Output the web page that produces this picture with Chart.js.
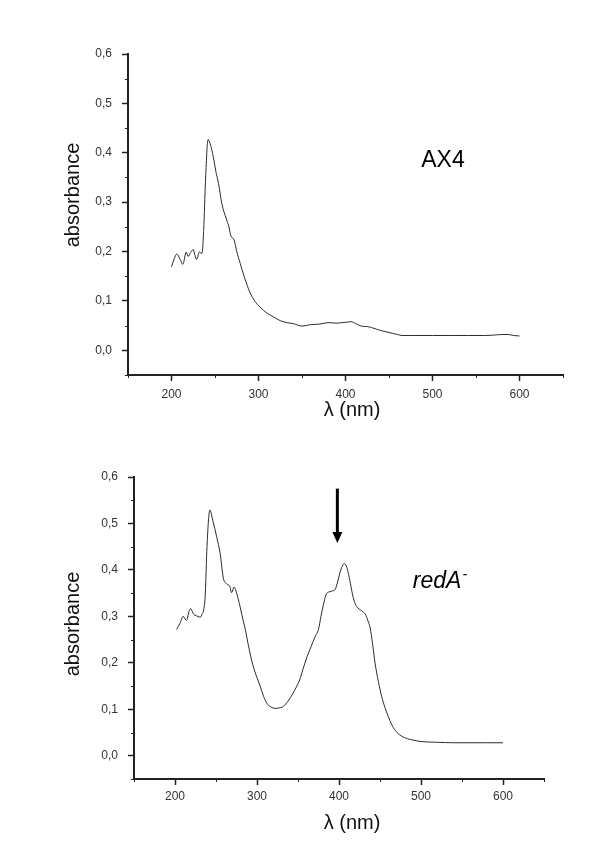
<!DOCTYPE html>
<html>
<head>
<meta charset="utf-8">
<script src="https://cdn.jsdelivr.net/npm/chart.js@4"></script>
<style>
  html, body { margin: 0; padding: 0; background: #fff; }
  .box { position: absolute; left: 0; width: 600px; }
</style>
</head>
<body>
<div class="box" style="top:0;height:430px"><canvas id="ax4"></canvas></div>
<div class="box" style="top:430px;height:429px"><canvas id="reda"></canvas></div>
<script>
// AX4 spectrum (wavelength nm / absorbance)
const wlAX4 = [200, 203, 206, 210, 213, 217, 219, 222, 225, 227, 229, 232, 235, 237, 239, 242,
  245, 248, 251, 254, 258, 263, 266, 268, 272, 275, 279, 284, 290, 296, 302, 310, 317, 325,
  333, 340, 350, 360, 370, 380, 390, 396, 402, 406, 412, 418, 425, 430, 437, 443, 450, 455,
  460, 465, 480, 500, 520, 540, 560, 572, 580, 587, 593, 600];
const absAX4 = [0.169, 0.185, 0.195, 0.184, 0.174, 0.199, 0.190, 0.198, 0.204, 0.192, 0.184,
  0.199, 0.196, 0.245, 0.340, 0.427, 0.415, 0.392, 0.362, 0.338, 0.296, 0.266, 0.250, 0.233,
  0.223, 0.200, 0.176, 0.147, 0.118, 0.099, 0.087, 0.075, 0.068, 0.060, 0.056, 0.054, 0.049,
  0.052, 0.053, 0.056, 0.055, 0.056, 0.057, 0.058, 0.054, 0.049, 0.048, 0.046, 0.042, 0.039,
  0.036, 0.034, 0.032, 0.030, 0.030, 0.030, 0.030, 0.030, 0.030, 0.031, 0.032, 0.032, 0.030,
  0.029];

// redA- spectrum
const wlRedA = [202, 206, 210, 214, 217, 219, 222, 224, 228, 231, 233, 235, 237, 239, 242.5,
  246, 251, 255, 259, 263, 267, 269, 272, 277, 283, 286, 289, 295, 300, 304, 308, 312, 317,
  322, 327, 332, 338, 344, 348, 352, 356, 361, 366, 371, 375, 378, 381, 385, 389, 392, 395,
  398, 401, 404, 406.5, 409, 411, 414, 417, 420, 423, 426, 429, 432, 435, 438, 441, 444, 448,
  452, 456, 460, 464, 468, 474, 480, 487, 495, 505, 520, 540, 560, 580, 600];
const absRedA = [0.272, 0.285, 0.300, 0.291, 0.310, 0.317, 0.307, 0.303, 0.300, 0.298, 0.305,
  0.314, 0.350, 0.450, 0.529, 0.507, 0.470, 0.436, 0.382, 0.370, 0.364, 0.351, 0.363, 0.338,
  0.292, 0.270, 0.242, 0.195, 0.168, 0.149, 0.128, 0.113, 0.105, 0.102, 0.103, 0.106, 0.118,
  0.135, 0.148, 0.163, 0.186, 0.213, 0.235, 0.257, 0.272, 0.300, 0.325, 0.350, 0.353, 0.355,
  0.357, 0.372, 0.393, 0.408, 0.414, 0.408, 0.396, 0.370, 0.343, 0.326, 0.318, 0.314, 0.310,
  0.305, 0.292, 0.275, 0.240, 0.199, 0.160, 0.128, 0.104, 0.085, 0.068, 0.056, 0.045, 0.039,
  0.035, 0.032, 0.030, 0.029, 0.028, 0.028, 0.028, 0.028];

const xTickLabels = [200, 300, 400, 500, 600];
const yTickLabels = [0.0, 0.1, 0.2, 0.3, 0.4, 0.5, 0.6];

const FONT = "'Liberation Sans', Arial, sans-serif";

const isMajorX = (v) => xTickLabels.includes(Math.round(v));
const isMajorY = (v) => yTickLabels.some((t) => Math.abs(t - v) < 1e-6);

// titles, minor ticks and annotations
const extras = {
  id: "extras",
  afterDraw(chart, args, o) {
    const { ctx, chartArea: a, scales: { x, y } } = chart;
    ctx.save();
    // short minor ticks
    ctx.strokeStyle = "#222";
    ctx.lineWidth = 1;
    ctx.beginPath();
    x.ticks.forEach((t) => {
      if (isMajorX(t.value)) return;
      const px = Math.round(x.getPixelForValue(t.value)) + 0.5;
      ctx.moveTo(px, a.bottom);
      ctx.lineTo(px, a.bottom + 3);
    });
    y.ticks.forEach((t) => {
      if (isMajorY(t.value)) return;
      const py = Math.round(y.getPixelForValue(t.value)) + 0.5;
      ctx.moveTo(a.left, py);
      ctx.lineTo(a.left - 3, py);
    });
    ctx.stroke();

    // axis titles
    ctx.fillStyle = "#111";
    ctx.font = "20px " + FONT;
    ctx.textAlign = "center";
    ctx.textBaseline = "middle";
    ctx.fillText("\u03bb (nm)", o.xTitle[0], o.xTitle[1]);
    ctx.save();
    ctx.translate(o.yTitle[0], o.yTitle[1]);
    ctx.rotate(-Math.PI / 2);
    ctx.fillText("absorbance", 0, 0);
    ctx.restore();

    // sample label
    const lx = x.getPixelForValue(o.label.at[0]);
    const ly = y.getPixelForValue(o.label.at[1]);
    ctx.fillStyle = "#000";
    ctx.textBaseline = "alphabetic";
    if (o.label.italic) {
      ctx.textAlign = "left";
      ctx.font = "italic 23px " + FONT;
      ctx.fillText(o.label.text, lx, ly);
      const w = ctx.measureText(o.label.text).width;
      ctx.font = "italic 14px " + FONT;
      ctx.fillText(o.label.sup, lx + w + 1, ly - 9);
    } else {
      ctx.textAlign = "center";
      ctx.font = "23px " + FONT;
      ctx.fillText(o.label.text, lx, ly);
    }

    // arrow
    if (o.arrow) {
      const ax = x.getPixelForValue(o.arrow[0]);
      const y0 = y.getPixelForValue(o.arrow[1]);
      const y1 = y.getPixelForValue(o.arrow[2]);
      ctx.strokeStyle = "#000";
      ctx.lineWidth = 3;
      ctx.beginPath();
      ctx.moveTo(ax, y0);
      ctx.lineTo(ax, y1 - 8);
      ctx.stroke();
      ctx.fillStyle = "#000";
      ctx.beginPath();
      ctx.moveTo(ax - 5, y1 - 11);
      ctx.lineTo(ax + 5, y1 - 11);
      ctx.lineTo(ax, y1);
      ctx.closePath();
      ctx.fill();
    }
    ctx.restore();
  },
};

function makeChart(id, wl, abs, box, extra) {
  return new Chart(document.getElementById(id), {
    type: "line",
    data: {
      datasets: [{
        data: wl.map((w, i) => ({ x: w, y: abs[i] })),
        borderColor: "#2b2b2b",
        borderWidth: 1,
        pointRadius: 0,
        cubicInterpolationMode: "monotone",
        fill: false,
      }],
    },
    options: {
      responsive: true,
      maintainAspectRatio: false,
      animation: false,
      layout: { padding: { left: 0, top: box.top, right: box.right, bottom: 0 } },
      plugins: { legend: { display: false }, tooltip: { enabled: false }, extras: extra },
      scales: {
        x: {
          type: "linear",
          min: 150,
          max: 650,
          afterFit: (s) => { s.height = box.xh; },
          ticks: {
            stepSize: 50,
            autoSkip: false,
            maxRotation: 0,
            padding: box.xpad,
            color: "#333",
            font: { family: FONT, size: 12 },
            callback: (v) => (isMajorX(v) ? String(Math.round(v)) : ""),
          },
          grid: {
            drawOnChartArea: false,
            tickLength: 6,
            tickWidth: 1.5,
            tickColor: (c) => (c.tick && isMajorX(c.tick.value) ? "#222" : "rgba(0,0,0,0)"),
          },
          border: { color: "#222", width: 2 },
        },
        y: {
          min: -0.05,
          max: 0.6,
          afterFit: (s) => { s.width = box.left; },
          ticks: {
            stepSize: 0.05,
            autoSkip: false,
            padding: 10,
            color: "#333",
            font: { family: FONT, size: 12 },
            callback: (v) => (isMajorY(v) ? v.toFixed(1).replace(".", ",") : ""),
          },
          grid: {
            drawOnChartArea: false,
            tickLength: 6,
            tickWidth: 1.5,
            tickColor: (c) => (c.tick && isMajorY(c.tick.value) ? "#222" : "rgba(0,0,0,0)"),
          },
          border: { color: "#222", width: 2 },
        },
      },
    },
    plugins: [extras],
  });
}

makeChart("ax4", wlAX4, absAX4,
  { left: 128, top: 54, right: 37, xh: 55, xpad: 6 },
  { xTitle: [352, 410], yTitle: [73, 195], label: { text: "AX4", at: [512, 0.372] } });

makeChart("reda", wlRedA, absRedA,
  { left: 134, top: 47, right: 56, xh: 80, xpad: 4 },
  { xTitle: [352, 393], yTitle: [73, 194],
    label: { text: "redA", sup: "-", italic: true, at: [490, 0.361] },
    arrow: [398, 0.575, 0.458] });
</script>
</body>
</html>
